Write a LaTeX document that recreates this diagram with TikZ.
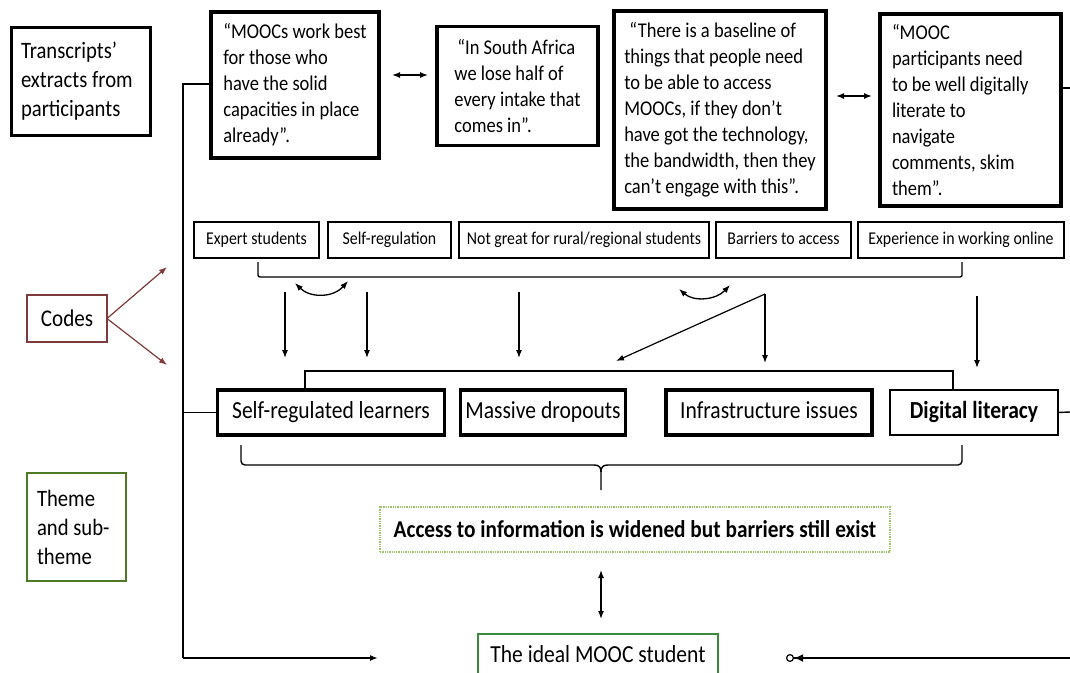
\documentclass[tikz,border=0pt]{standalone}
\usepackage{fontspec}
\setmainfont{Carlito}[FakeStretch=0.88]
\usetikzlibrary{arrows.meta,calc}
\definecolor{codered}{HTML}{7E3B3B}
\definecolor{themegreen}{HTML}{4E7A26}
\definecolor{idealgreen}{HTML}{3C8A3E}
\definecolor{dotgreen}{HTML}{9CC26A}
% narrower interword spacing for the condensed lettering
\newcommand{\tightsp}{\spaceskip=.2em\relax}
\begin{document}
\begin{tikzpicture}[x=1pt,y=-1pt,
  every node/.style={inner sep=0pt, outer sep=0pt},
  quotebox/.style={draw, line width=3.2pt, align=left,
    font=\fontsize{21}{26}\selectfont\tightsp},
  legendbox/.style={draw, line width=3pt, align=left,
    font=\fontsize{23.5}{29}\selectfont\tightsp, inner xsep=10pt},
  codebox/.style={draw, line width=1.5pt, minimum height=36pt,
    text height=12pt, text depth=4pt, font=\fontsize{18}{20}\selectfont\tightsp},
  subbox/.style={draw, line width=3.2pt, minimum height=45pt,
    text height=17pt, text depth=5pt, font=\fontsize{24.5}{28}\selectfont\tightsp},
  tip/.style={-{Latex[length=8pt,width=6pt]}},
  dtip/.style={{Latex[length=8pt,width=6pt]}-{Latex[length=8pt,width=6pt]}},
  link/.style={line width=1.4pt}]
\useasboundingbox (0,0) rectangle (1070,672);

% legend column
\node[legendbox, minimum width=139pt, minimum height=108pt, text width=119pt]
  (trans) at (80.5,81) {\tightsp Transcripts’\\extracts from\\participants};
\node[draw=codered, line width=2.2pt, minimum width=80pt, minimum height=47pt,
  font=\fontsize{24}{27}\selectfont] (codes) at (67,318.5) {Codes};
\node[legendbox, draw=themegreen, line width=2.2pt, minimum width=99pt,
  minimum height=108pt, text width=79pt] (theme) at (76.5,527)
  {\tightsp Theme\\and sub-\\theme};

% participant quotations
\node[quotebox, minimum width=168pt, minimum height=146pt]
  (q1) at (295,85) {“MOOCs work best\\for those who\\have the solid\\capacities in place\\already”.};
\node[quotebox, minimum width=161pt, minimum height=119pt]
  (q2) at (517.5,86) {\hspace{3pt}“In South Africa\\we lose half of\\every intake that\\comes in”.};
\node[quotebox, minimum width=212pt, minimum height=198pt]
  (q3) at (720,110) {\hspace{5pt}“There is a baseline of\\things that people need\\to be able to access\\MOOCs, if they don’t\\have got the technology,\\the bandwidth, then they\\can’t engage with this”.};
\node[quotebox, minimum width=181pt, minimum height=192pt, inner xsep=12pt, text width=157pt]
  (q4) at (970.5,110) {\tightsp “MOOC\\participants need\\to be well digitally\\literate to\\navigate\\comments, skim\\them”.};

% codes
\node[codebox, minimum width=125pt] (c1) at (256.5,240) {Expert students};
\node[codebox, minimum width=123pt] (c2) at (389.5,240) {Self-regulation};
\node[codebox, minimum width=250pt] (c3) at (584,240) {Not great for rural/regional students};
\node[codebox, minimum width=135pt] (c4) at (783.5,240) {Barriers to access};
\node[codebox, minimum width=206pt] (c5) at (961,240) {Experience in working online};

% sub-themes
\node[subbox, minimum width=227pt] (s1) at (331,412.5) {Self-regulated learners};
\node[subbox, minimum width=165pt] (s2) at (543,412.5) {Massive dropouts};
\node[subbox, minimum width=206pt] (s3) at (769,412.5) {Infrastructure issues};
\node[subbox, line width=2.4pt, minimum width=168pt,
  font=\fontsize{24.5}{27}\selectfont\bfseries\tightsp] (s4) at (974,412.5) {Digital literacy};

% theme and ideal student
\node[draw=dotgreen, line width=1.3pt, densely dotted, minimum width=510pt,
  minimum height=45pt, font=\fontsize{24.2}{27}\selectfont\bfseries\tightsp]
  (th) at (635,529.5) {Access to information is widened but barriers still exist};
\node[draw=idealgreen, line width=2pt, minimum width=240pt, minimum height=46pt,
  text height=16pt, text depth=5pt,
  font=\fontsize{24.5}{27}\selectfont\tightsp] (ideal) at (598,657) {The ideal MOOC student};

% free ends of connectors
\coordinate (codesUp) at (167,267);
\coordinate (codesDown) at (167,365);
\coordinate (spineTop) at (183,84);
\coordinate (spineBot) at (183,658);
\coordinate (leftEnd) at (378,658);
\coordinate (rightTop) at (1070,88);
\coordinate (rightMid) at (1070,412);
\coordinate (rightBot) at (1070,658);
\coordinate (rightEnd) at (786,658);

% codes pointer arrows
\draw[tip, draw=codered, fill=codered, line width=1.2pt] (codes.east) -- (codesUp);
\draw[tip, draw=codered, fill=codered, line width=1.2pt] (codes.east) -- (codesDown);

% links between quotations
\draw[dtip, link] ([xshift=13pt]q1.east |- 0,75) -- ([xshift=-9pt]q2.west |- 0,75);
\draw[dtip, link] ([xshift=10pt]q3.east |- 0,96) -- ([xshift=-8pt]q4.west |- 0,96);

% left spine
\draw[link] (q1.west |- spineTop) -- (spineTop) -- (spineBot);
\draw[link] (s1.west) -- (s1.west -| spineTop);
\draw[tip, line width=2.2pt] (spineBot) -- (leftEnd);

% right side returns
\draw[link] (q4.east |- rightTop) -- (rightTop);
\draw[link] (s4.east) -- (rightMid);
\draw[-{Latex[length=9pt,width=8pt] Circle[open,length=8pt,width=8pt,line width=1.2pt]}, line width=2.2pt]
  (rightBot) -- (rightEnd);

% bracket under the codes
\draw[link, rounded corners=2pt] (258,262) |- (962,277) -- (962,262);
% mutual links between codes
\draw[dtip, line width=1.3pt] (295,283) .. controls (310,298) and (333,298) .. (348,281);
\draw[dtip, line width=1.3pt] (679,289) .. controls (694,302) and (716,300) .. (730,285);

% codes feeding the sub-themes
\draw[tip, line width=1.2pt] (285,292) -- (285,358);
\draw[tip, line width=1.2pt] (367,292) -- (367,358);
\draw[tip, line width=1.2pt] (519,292) -- (519,358);
\draw[tip, line width=1.2pt] (765,294) -- (765,363);
\draw[tip, line width=1.2pt] (765,294) -- (616,361);
\draw[tip, line width=1.2pt] (977,296) -- (977,368);

% bracket over the sub-themes
\draw[link] (s1.north -| 305,0) |- (953,371) -- (s4.north -| 953,0);

% brace under the sub-themes
\draw[link, rounded corners=4pt] (241,445) |- (594,465);
\draw[link] (594,465) .. controls (599,465) and (601,467) .. (601,472) -- (601,490);
\draw[link] (608,465) .. controls (603,465) and (601,467) .. (601,472);
\draw[link, rounded corners=4pt] (608,465) -| (962,445);

% theme to ideal student
\draw[dtip, line width=1.4pt] (601,570) -- (601,619);
\end{tikzpicture}
\end{document}
